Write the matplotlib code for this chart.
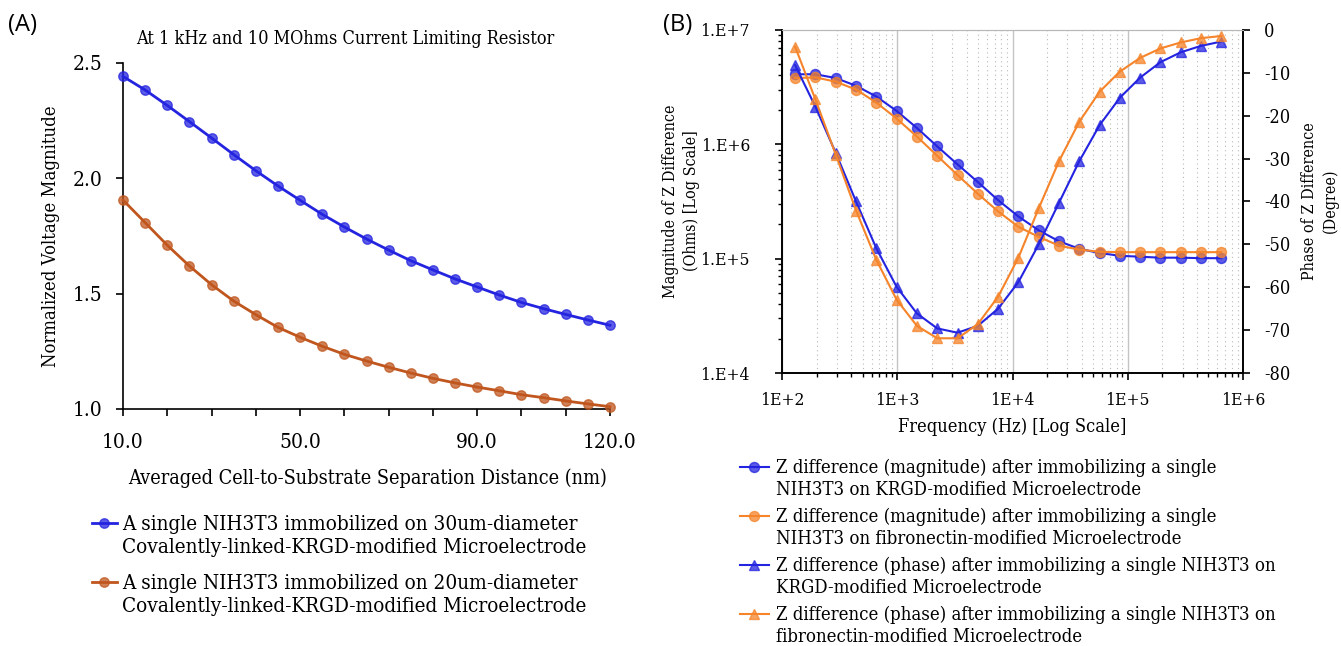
import numpy as np
import matplotlib
matplotlib.use("Agg")
import matplotlib.pyplot as plt
from matplotlib.lines import Line2D
from matplotlib.legend import Legend
from matplotlib.ticker import FixedLocator, FixedFormatter, LogLocator, NullFormatter
from matplotlib.colors import to_rgba

# ---------------- data: panel A ----------------
distance_nm = [10, 15, 20, 25, 30, 35, 40, 45, 50, 55, 60, 65, 70, 75,
               80, 85, 90, 95, 100, 105, 110, 115, 120]
volt_30um = [2.442, 2.383, 2.316, 2.246, 2.175, 2.103, 2.033, 1.967, 1.905,
             1.844, 1.789, 1.737, 1.689, 1.643, 1.603, 1.564, 1.529, 1.494,
             1.462, 1.435, 1.410, 1.386, 1.363]
volt_20um = [1.906, 1.808, 1.710, 1.620, 1.539, 1.468, 1.409, 1.354, 1.311,
             1.272, 1.237, 1.208, 1.181, 1.156, 1.133, 1.113, 1.095, 1.079,
             1.062, 1.049, 1.035, 1.022, 1.010]
a_xticks = [10, 20, 30, 40, 50, 60, 70, 80, 90, 100, 110, 120]
a_xticklabels = ["10.0", "", "", "", "50.0", "", "", "", "90.0", "", "", "120.0"]
a_yticks = [1.0, 1.5, 2.0, 2.5]
a_labels = ["A single NIH3T3 immobilized on 30um-diameter\nCovalently-linked-KRGD-modified Microelectrode",
            "A single NIH3T3 immobilized on 20um-diameter\nCovalently-linked-KRGD-modified Microelectrode"]

# ---------------- data: panel B ----------------
freq_hz = [130, 195, 293, 439, 658, 987, 1481, 2222, 3333, 5000, 7500,
           11250, 16875, 25313, 37969, 56953, 85430, 128145, 192217,
           288325, 432488, 648732]
mag_krgd = [4.1e6, 4.1e6, 3.8e6, 3.25e6, 2.62e6, 1.96e6, 1.39e6, 9.6e5,
            6.68e5, 4.68e5, 3.25e5, 2.34e5, 1.77e5, 1.42e5, 1.22e5, 1.12e5,
            1.06e5, 1.04e5, 1.02e5, 1.02e5, 1.01e5, 1.01e5]
mag_fn = [3.8e6, 3.85e6, 3.53e6, 3.01e6, 2.32e6, 1.68e6, 1.17e6, 7.94e5,
          5.39e5, 3.7e5, 2.59e5, 1.9e5, 1.55e5, 1.3e5, 1.2e5, 1.15e5,
          1.14e5, 1.14e5, 1.14e5, 1.14e5, 1.14e5, 1.14e5]
phase_krgd = [-8.2, -17.9, -28.7, -40.0, -50.9, -59.9, -66.1, -69.6, -70.6,
              -69.0, -65.0, -58.8, -50.0, -40.3, -30.6, -22.2, -15.8, -11.1,
              -7.5, -5.2, -3.7, -2.7]
phase_fn = [-3.9, -16.2, -29.1, -42.1, -53.6, -62.9, -69.0, -71.9, -71.9,
            -68.6, -62.2, -53.1, -41.6, -30.6, -21.4, -14.4, -9.7, -6.5,
            -4.3, -2.9, -1.9, -1.4]
b_xticks = [1e2, 1e3, 1e4, 1e5, 1e6]
b_xticklabels = ["1E+2", "1E+3", "1E+4", "1E+5", "1E+6"]
b_yticks = [1e4, 1e5, 1e6, 1e7]
b_yticklabels = ["1.E+4", "1.E+5", "1.E+6", "1.E+7"]
b_phase_ticks = [-80, -70, -60, -50, -40, -30, -20, -10, 0]
b_labels = ["Z difference (magnitude) after immobilizing a single\nNIH3T3 on KRGD-modified Microelectrode",
            "Z difference (magnitude) after immobilizing a single\nNIH3T3 on fibronectin-modified Microelectrode",
            "Z difference (phase) after immobilizing a single NIH3T3 on\nKRGD-modified Microelectrode",
            "Z difference (phase) after immobilizing a single NIH3T3 on\nfibronectin-modified Microelectrode"]

BLUE = "#2424e0"
BROWN = "#c0561e"
ORANGE = "#f5842a"
SERIF = dict(family="DejaVu Serif", stretch="condensed")

W, H = 1341, 646
fig = plt.figure(figsize=(W / 100, H / 100), dpi=100)


def px(x0, y0, x1, y1):
    return [x0 / W, 1 - y1 / H, (x1 - x0) / W, (y1 - y0) / H]


def styled_plot(ax, x, y, color, marker, ms, lw, label):
    return ax.plot(x, y, color=color, lw=lw, marker=marker, ms=ms,
                   mfc=to_rgba(color, 0.75), mec=to_rgba(color, 0.75),
                   clip_on=False, label=label, zorder=3)[0]


def serif_ticks(labels):
    for t in labels:
        t.set_fontfamily(SERIF["family"])
        t.set_fontstretch(SERIF["stretch"])


def entry_legend(ax, handle, label, x, y_top, size, hlen, hpad, lspace):
    # one legend per entry so that the key sits on the first text line
    rows = label.split("\n")
    blank = Line2D([], [], color="none")
    leg = Legend(ax, [handle] + [blank] * (len(rows) - 1), rows,
                 loc="upper left", bbox_to_anchor=(x / W, 1 - y_top / H),
                 bbox_transform=fig.transFigure, frameon=False,
                 borderpad=0, borderaxespad=0, handlelength=hlen,
                 handletextpad=hpad, labelspacing=lspace,
                 prop=dict(size=size, **SERIF))
    ax.add_artist(leg)


# ================= panel A =================
axA = fig.add_axes(px(123, 63, 610, 409))
lA1 = styled_plot(axA, distance_nm, volt_30um, BLUE, "o", 6.8, 2.0, a_labels[0])
lA2 = styled_plot(axA, distance_nm, volt_20um, BROWN, "o", 6.8, 2.0, a_labels[1])
axA.set_xlim(10, 120)
axA.set_ylim(1.0, 2.5)
axA.set_xticks(a_xticks)
axA.set_xticklabels(a_xticklabels)
axA.set_yticks(a_yticks)
axA.set_yticklabels(["%.1f" % v for v in a_yticks])
for s in ["top", "right"]:
    axA.spines[s].set_visible(False)
for s in ["left", "bottom"]:
    axA.spines[s].set_linewidth(1.2)
axA.tick_params(axis="x", length=5, width=1.2, pad=12, labelsize=15)
axA.tick_params(axis="y", length=5, width=1.2, pad=10, labelsize=15)
serif_ticks(axA.get_xticklabels() + axA.get_yticklabels())

fig.text(8 / W, 1 - 25 / H, "(A)", fontsize=17, family="Open Sans",
         ha="left", va="center")
fig.text(345 / W, 1 - 39 / H, "At 1 kHz and 10 MOhms Current Limiting Resistor",
         fontsize=13, ha="center", va="center", **SERIF)
fig.text(51 / W, 1 - 236 / H, "Normalized Voltage Magnitude", fontsize=13.2,
         rotation=90, ha="center", va="center", **SERIF)
fig.text(368 / W, 1 - 478 / H, "Averaged Cell-to-Substrate Separation Distance (nm)",
         fontsize=14.2, ha="center", va="center", **SERIF)

for h, lab, top in zip([lA1, lA2], a_labels, [515, 574]):
    entry_legend(axA, h, lab, 92, top, 14.9, 1.2, 0.25, 0.19)

# ================= panel B =================
axB = fig.add_axes(px(782, 30, 1243, 373))
axP = axB.twinx()
lB1 = styled_plot(axB, freq_hz, mag_krgd, BLUE, "o", 7.2, 1.5, b_labels[0])
lB2 = styled_plot(axB, freq_hz, mag_fn, ORANGE, "o", 7.2, 1.5, b_labels[1])
lB3 = styled_plot(axP, freq_hz, phase_krgd, BLUE, "^", 7.2, 1.5, b_labels[2])
lB4 = styled_plot(axP, freq_hz, phase_fn, ORANGE, "^", 7.2, 1.5, b_labels[3])

axB.set_xscale("log")
axB.set_yscale("log")
axB.set_xlim(1e2, 1e6)
axB.set_ylim(1e4, 1e7)
axP.set_ylim(-80, 0)

axB.xaxis.set_major_locator(FixedLocator(b_xticks))
axB.xaxis.set_major_formatter(FixedFormatter(b_xticklabels))
axB.xaxis.set_minor_locator(LogLocator(base=10, subs=np.arange(2, 10)))
axB.xaxis.set_minor_formatter(NullFormatter())
axB.yaxis.set_major_locator(FixedLocator(b_yticks))
axB.yaxis.set_major_formatter(FixedFormatter(b_yticklabels))
axB.yaxis.set_minor_locator(LogLocator(base=10, subs=np.arange(2, 10)))
axB.yaxis.set_minor_formatter(NullFormatter())
axP.set_yticks(b_phase_ticks)
axP.set_yticklabels([str(v) for v in b_phase_ticks])

axB.grid(True, which="major", axis="x", color="#c4c4c4", lw=1.0, ls="-")
axB.grid(True, which="minor", axis="x", color="#b8b8b8", lw=0.8, ls=(0, (1, 3)))
axB.set_axisbelow(True)

axB.spines["top"].set_color("#b8b8b8")
axP.spines["top"].set_color("#b8b8b8")
for ax in (axB, axP):
    for s in ["left", "bottom", "right"]:
        ax.spines[s].set_linewidth(1.2)
axB.tick_params(which="major", length=5, width=1.2, labelsize=12.5)
axB.tick_params(which="minor", length=3, width=1.0)
axB.tick_params(axis="x", which="major", pad=9)
axB.tick_params(axis="y", which="major", pad=18)
axP.tick_params(length=5, width=1.2, labelsize=13, pad=10)
serif_ticks(axB.get_xticklabels() + axB.get_yticklabels() + axP.get_yticklabels())

fig.text(663 / W, 1 - 25 / H, "(B)", fontsize=17, family="Open Sans",
         ha="left", va="center")
fig.text(681 / W, 1 - 201 / H, "Magnitude of Z Difference\n(Ohms) [Log Scale]",
         fontsize=11.5, rotation=90, ha="center", va="center",
         linespacing=1.25, **SERIF)
fig.text(1320 / W, 1 - 201 / H, "Phase of Z Difference\n(Degree)",
         fontsize=11.5, rotation=90, ha="center", va="center",
         linespacing=1.25, **SERIF)
fig.text(1012 / W, 1 - 427 / H, "Frequency (Hz) [Log Scale]",
         fontsize=13.1, ha="center", va="center", **SERIF)

for h, lab, top in zip([lB1, lB2, lB3, lB4], b_labels, [459, 508, 557, 606]):
    entry_legend(axP, h, lab, 740, top, 13.3, 1.55, 0.38, 0.18)

fig.savefig("out.png", dpi=100, facecolor="white")
